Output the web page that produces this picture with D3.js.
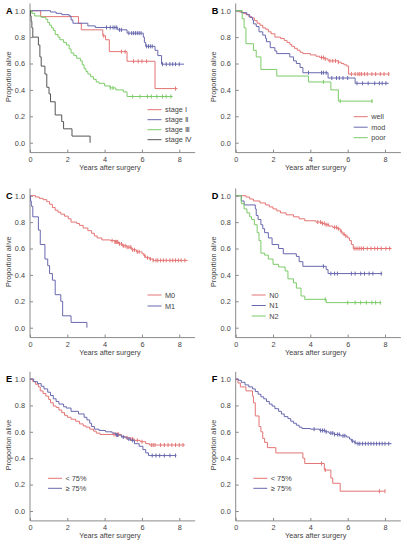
<!DOCTYPE html>
<html><head><meta charset="utf-8">
<script src="https://cdn.jsdelivr.net/npm/d3@7"></script>
<style>
html,body{margin:0;padding:0;background:#fff;}
svg text{font-family:"Liberation Sans",Arial,sans-serif;}
</style></head>
<body><svg id="c" width="407" height="545"></svg>
<script>
// ---------- DATA (years, survival) ----------
const xTicks = [0, 2, 4, 6, 8];
const yTicks = [0.0, 0.2, 0.4, 0.6, 0.8, 1.0];

// Panel A: stage
const A_labels = ["stage \u2160", "stage \u2161", "stage \u2162", "stage \u2163"];
const A_s1 = [[0,1],[0.57,0.955],[2.6,0.905],[2.75,0.855],[3.9,0.81],[4.05,0.78],[4.25,0.69],[5.2,0.617],[6.7,0.41]];
const A_s1_end = 7.9, A_s1_cens = [3.95,4.9,5.1,5.55,5.8,6.0,6.25,7.8];
const A_s2 = [[0,1],[1.1,0.99],[1.4,0.98],[1.7,0.97],[2.1,0.96],[2.2,0.93],[2.3,0.905],[3.1,0.885],[3.5,0.873],[4.7,0.855],[5.2,0.83],[6.07,0.80],[6.13,0.76],[6.2,0.73],[6.7,0.70],[6.85,0.66],[7.05,0.595]];
const A_s2_end = 8.25, A_s2_cens = [4.1,4.3,4.45,4.55,4.65,4.8,4.9,5.3,5.45,5.55,5.65,5.75,5.85,5.95,6.25,6.35,6.45,6.55,7.1,7.3,7.5,7.65,7.8,8.0];
const A_s3 = [[0,1],[0.1,0.98],[0.25,0.96],[0.6,0.95],[0.85,0.935],[0.95,0.91],[1.05,0.89],[1.15,0.87],[1.25,0.85],[1.35,0.82],[1.5,0.8],[1.6,0.78],[1.8,0.76],[1.95,0.74],[2.1,0.71],[2.2,0.68],[2.35,0.66],[2.5,0.64],[2.7,0.62],[2.8,0.59],[2.9,0.56],[3.0,0.54],[3.1,0.52],[3.25,0.5],[3.4,0.48],[3.55,0.46],[3.7,0.45],[4.0,0.43],[4.3,0.415],[4.6,0.40],[5.0,0.385],[5.2,0.35]];
const A_s3_end = 7.65, A_s3_cens = [4.3,4.45,5.5,5.9,6.3,6.5,6.8,7.1,7.3,7.55];
const A_s4 = [[0,1],[0.03,0.96],[0.06,0.92],[0.1,0.87],[0.15,0.80],[0.45,0.74],[0.53,0.65],[0.6,0.58],[0.8,0.52],[0.9,0.42],[1.02,0.37],[1.1,0.31],[1.35,0.21],[1.7,0.16],[1.8,0.105],[2.25,0.05],[3.22,0.0]];
const A_s4_end = 3.22, A_s4_cens = [];

// Panel B: differentiation
const B_labels = ["well", "mod", "poor"];
const B_well = [[0,1],[0.2,0.99],[0.4,0.98],[0.55,0.97],[0.7,0.955],[0.85,0.945],[1.0,0.925],[1.15,0.905],[1.3,0.89],[1.45,0.87],[1.6,0.86],[1.75,0.84],[1.9,0.825],[2.1,0.80],[2.4,0.79],[2.6,0.775],[2.75,0.76],[2.9,0.745],[3.0,0.73],[3.15,0.715],[3.3,0.70],[3.45,0.685],[3.6,0.675],[4.0,0.665],[4.3,0.655],[4.5,0.645],[4.75,0.635],[4.95,0.62],[5.5,0.61],[5.65,0.60],[5.8,0.59],[5.95,0.58],[6.05,0.52]];
const B_well_end = 8.25, B_well_cens = [4.6,4.7,4.8,5.05,5.2,5.35,5.5,6.2,6.4,6.55,6.65,6.75,6.9,7.05,7.3,7.5,7.75,7.95,8.2];
const B_mod = [[0,1],[0.3,0.985],[0.6,0.97],[0.75,0.95],[0.9,0.93],[0.95,0.90],[1.1,0.88],[1.25,0.84],[1.45,0.815],[1.6,0.79],[1.65,0.765],[1.85,0.72],[2.1,0.695],[2.2,0.675],[2.9,0.65],[3.1,0.62],[3.25,0.60],[3.45,0.57],[3.6,0.53],[4.95,0.49],[6.4,0.45]];
const B_mod_end = 8.2, B_mod_cens = [3.9,4.6,4.7,4.85,5.15,5.4,5.55,5.75,6.0,6.5,6.8,7.1,7.45,7.7,7.85,8.05];
const B_poor = [[0,1],[0.35,0.94],[0.45,0.87],[0.55,0.75],[0.95,0.70],[1.1,0.65],[1.35,0.555],[2.2,0.505],[3.9,0.46],[5.1,0.40],[5.5,0.315]];
const B_poor_end = 7.35, B_poor_cens = [4.7,5.6,7.3];

// Panel C: M stage
const C_labels = ["M0", "M1"];
const C_m0 = [[0,1],[0.3,0.99],[0.5,0.98],[0.7,0.97],[0.9,0.955],[1.05,0.935],[1.2,0.91],[1.35,0.89],[1.5,0.875],[1.65,0.86],[1.85,0.845],[2.05,0.825],[2.2,0.80],[2.5,0.79],[2.65,0.775],[2.85,0.755],[3.1,0.735],[3.3,0.715],[3.45,0.695],[3.6,0.68],[3.85,0.665],[4.3,0.66],[4.55,0.65],[4.75,0.635],[4.95,0.62],[5.2,0.61],[5.45,0.59],[5.7,0.575],[6.0,0.56],[6.1,0.545],[6.2,0.53],[6.4,0.52],[6.6,0.51]];
const C_m0_end = 8.45, C_m0_cens = [4.4,4.55,4.6,4.65,4.7,4.8,4.9,5.0,5.1,5.2,5.3,5.4,5.5,5.6,5.75,5.85,6.15,6.3,6.45,6.6,6.75,6.85,7.0,7.15,7.3,7.5,7.65,7.8,7.95,8.1,8.3];
const C_m1 = [[0,1],[0.03,0.96],[0.07,0.92],[0.15,0.84],[0.45,0.74],[0.55,0.63],[0.8,0.52],[0.95,0.47],[1.05,0.41],[1.2,0.36],[1.35,0.25],[1.65,0.20],[1.75,0.09],[2.2,0.04],[3.05,0.0]];
const C_m1_end = 3.05, C_m1_cens = [];

// Panel D: N stage
const D_labels = ["N0", "N1", "N2"];
const D_n0 = [[0,1],[0.55,0.99],[0.75,0.975],[0.95,0.96],[1.3,0.945],[1.6,0.93],[1.8,0.915],[2.0,0.90],[2.2,0.885],[2.4,0.87],[2.7,0.855],[3.1,0.84],[3.4,0.825],[3.7,0.81],[4.3,0.80],[4.6,0.79],[4.8,0.78],[5.0,0.77],[5.2,0.76],[5.45,0.75],[5.6,0.73],[5.7,0.71],[5.85,0.695],[6.0,0.68],[6.1,0.66],[6.2,0.63],[6.3,0.60]];
const D_n0_end = 8.35, D_n0_cens = [4.4,4.55,4.65,4.75,4.85,4.95,5.3,5.4,5.5,5.65,5.8,5.9,6.35,6.45,6.55,6.65,6.75,6.85,7.05,7.25,7.45,7.6,7.8,8.05,8.25];
const D_n1 = [[0,1],[0.3,0.96],[0.45,0.93],[1.05,0.90],[1.1,0.85],[1.2,0.82],[1.35,0.78],[1.45,0.75],[1.55,0.72],[1.75,0.68],[1.95,0.63],[2.3,0.60],[2.55,0.56],[3.25,0.54],[3.4,0.50],[3.6,0.465],[4.85,0.44],[4.95,0.41]];
const D_n1_end = 7.85, D_n1_cens = [4.7,5.1,5.3,5.45,6.2,6.4,6.7,6.9,7.15,7.35,7.8];
const D_n2 = [[0,1],[0.3,0.94],[0.45,0.90],[0.6,0.87],[0.75,0.84],[0.85,0.82],[1.0,0.78],[1.15,0.72],[1.25,0.66],[1.35,0.565],[1.55,0.55],[1.75,0.52],[2.0,0.48],[2.3,0.46],[2.65,0.43],[2.8,0.37],[3.1,0.34],[3.25,0.30],[3.5,0.24],[3.7,0.215],[4.85,0.19]];
const D_n2_end = 7.8, D_n2_cens = [4.8,6.0,6.4,6.7,7.0,7.3,7.5,7.75];

// Panel E
const E_labels = ["< 75%", "\u2265 75%"];
const E_lo = [[0,1],[0.15,0.98],[0.3,0.96],[0.45,0.94],[0.55,0.91],[0.7,0.89],[0.85,0.87],[1.0,0.845],[1.1,0.82],[1.25,0.795],[1.4,0.785],[1.55,0.765],[1.7,0.745],[1.85,0.725],[2.0,0.71],[2.2,0.695],[2.45,0.68],[2.65,0.66],[2.85,0.645],[3.0,0.635],[3.2,0.62],[3.4,0.605],[3.55,0.59],[3.75,0.58],[4.9,0.565],[5.1,0.555],[5.35,0.545],[5.6,0.535],[5.9,0.525],[6.2,0.51],[6.4,0.50]];
const E_lo_end = 8.3, E_lo_cens = [4.5,4.6,4.7,4.75,5.2,5.4,5.5,5.75,6.0,6.5,6.6,6.7,7.0,7.2,7.4,7.6,7.8,8.0,8.2];
const E_hi = [[0,1],[0.2,0.98],[0.4,0.965],[0.6,0.945],[0.75,0.925],[0.95,0.90],[1.1,0.875],[1.25,0.85],[1.4,0.83],[1.55,0.81],[1.8,0.79],[1.95,0.78],[2.2,0.755],[2.6,0.735],[2.9,0.71],[3.05,0.69],[3.2,0.665],[3.3,0.64],[3.45,0.62],[3.7,0.61],[4.05,0.60],[4.4,0.59],[4.6,0.575],[4.9,0.56],[5.2,0.545],[5.4,0.535],[5.6,0.51],[5.85,0.49],[6.05,0.465],[6.2,0.44],[6.35,0.42]];
const E_hi_end = 7.85, E_hi_cens = [4.65,4.7,5.0,5.3,5.5,6.55,6.75,6.95,7.2,7.5,7.8];

// Panel F
const F_labels = ["< 75%", "\u2265 75%"];
const F_lo = [[0,1],[0.12,0.97],[0.25,0.94],[0.55,0.91],[0.9,0.87],[0.95,0.82],[1.05,0.72],[1.25,0.64],[1.35,0.60],[1.45,0.55],[1.55,0.52],[1.7,0.48],[2.15,0.44],[3.6,0.40],[3.7,0.36],[4.75,0.31],[5.1,0.25],[5.2,0.21],[5.6,0.15]];
const F_lo_end = 8.0, F_lo_cens = [4.6,4.8,7.7,8.0];
const F_hi = [[0,1],[0.15,0.99],[0.3,0.975],[0.5,0.955],[0.7,0.94],[0.9,0.925],[1.05,0.905],[1.2,0.885],[1.35,0.865],[1.5,0.85],[1.65,0.83],[1.8,0.81],[1.95,0.795],[2.1,0.775],[2.3,0.755],[2.45,0.735],[2.6,0.715],[2.8,0.70],[2.95,0.68],[3.1,0.665],[3.25,0.65],[3.4,0.635],[3.55,0.625],[4.0,0.62],[4.5,0.61],[4.8,0.60],[5.0,0.59],[5.3,0.58],[5.6,0.57],[5.95,0.56],[6.1,0.545],[6.2,0.53],[6.35,0.52],[6.45,0.51]];
const F_hi_end = 8.35, F_hi_cens = [4.2,4.55,4.65,4.75,4.85,5.1,5.2,5.3,5.45,5.55,5.75,5.85,6.25,6.4,6.55,6.65,6.8,6.95,7.1,7.25,7.4,7.55,7.7,7.85,8.0,8.2];

// ---------- STYLE / LAYOUT ----------
const RED = "#e47474", BLUE = "#6868ae", GREEN = "#7ccb68", GRAY = "#555555";
const panels = [
  {letter:"A", ax:30, top:10.7, legend:{x:117.5, y:99, dy:10},
   series:[{s:A_s1,end:A_s1_end,c:A_s1_cens,col:RED},{s:A_s2,end:A_s2_end,c:A_s2_cens,col:BLUE},{s:A_s3,end:A_s3_end,c:A_s3_cens,col:GREEN},{s:A_s4,end:A_s4_end,c:A_s4_cens,col:GRAY}], labels:A_labels},
  {letter:"B", ax:235.7, top:10.7, legend:{x:118, y:106, dy:10.5},
   series:[{s:B_well,end:B_well_end,c:B_well_cens,col:RED},{s:B_mod,end:B_mod_end,c:B_mod_cens,col:BLUE},{s:B_poor,end:B_poor_end,c:B_poor_cens,col:GREEN}], labels:B_labels},
  {letter:"C", ax:30, top:195.7, legend:{x:117.5, y:99.3, dy:11},
   series:[{s:C_m0,end:C_m0_end,c:C_m0_cens,col:RED},{s:C_m1,end:C_m1_end,c:C_m1_cens,col:BLUE}], labels:C_labels},
  {letter:"D", ax:235.7, top:195.7, legend:{x:16, y:99.3, dy:10.5},
   series:[{s:D_n0,end:D_n0_end,c:D_n0_cens,col:RED},{s:D_n1,end:D_n1_end,c:D_n1_cens,col:BLUE},{s:D_n2,end:D_n2_end,c:D_n2_cens,col:GREEN}], labels:D_labels},
  {letter:"E", ax:30, top:379, legend:{x:18, y:99.3, dy:10},
   series:[{s:E_lo,end:E_lo_end,c:E_lo_cens,col:RED},{s:E_hi,end:E_hi_end,c:E_hi_cens,col:BLUE}], labels:E_labels},
  {letter:"F", ax:235.7, top:379, legend:{x:17.6, y:99.3, dy:10},
   series:[{s:F_lo,end:F_lo_end,c:F_lo_cens,col:RED},{s:F_hi,end:F_hi_end,c:F_hi_cens,col:BLUE}], labels:F_labels}
];

const svg = d3.select("#c");
const PX_PER_YEAR = 18.66, H = 132, XMAX = 8.85, YLO = -0.075, YHI = 1.055;
const FS = 7.3, TXT = "#444", AXC = "#8a8a8a";

panels.forEach(p => {
  const g = svg.append("g");
  const x = d3.scaleLinear().domain([0, 8]).range([p.ax, p.ax + 8*PX_PER_YEAR]);
  const y = d3.scaleLinear().domain([0, 1]).range([p.top + H, p.top]);
  const xAxisY = y(YLO);

  g.append("line").attr("x1", p.ax).attr("x2", p.ax).attr("y1", y(YHI)).attr("y2", xAxisY)
    .attr("stroke", AXC).attr("stroke-width", 1);
  g.append("line").attr("x1", p.ax).attr("x2", x(XMAX)).attr("y1", xAxisY).attr("y2", xAxisY)
    .attr("stroke", AXC).attr("stroke-width", 1);

  const yAx = g.append("g").attr("transform", `translate(${p.ax},0)`)
    .call(d3.axisLeft(y).tickValues(yTicks).tickFormat(d3.format(".1f")).tickSizeInner(-3).tickSizeOuter(0).tickPadding(5));
  const xAx = g.append("g").attr("transform", `translate(0,${xAxisY})`)
    .call(d3.axisBottom(x).tickValues(xTicks).tickFormat(d3.format("d")).tickSizeInner(-3).tickSizeOuter(0).tickPadding(4));
  [yAx, xAx].forEach(a => {
    a.select(".domain").remove();
    a.selectAll(".tick line").attr("stroke", AXC);
    a.selectAll(".tick text").attr("fill", TXT).style("font-size", FS + "px").style("font-family", '"Liberation Sans",Arial,sans-serif');
  });

  g.append("text").attr("x", p.ax + 80).attr("y", xAxisY + 17).attr("text-anchor", "middle")
    .attr("fill", TXT).style("font-size", FS + "px").text("Years after surgery");
  g.append("text").attr("transform", `translate(${p.ax - 19.5},${p.top + H/2}) rotate(-90)`)
    .attr("text-anchor", "middle").attr("fill", TXT).style("font-size", FS + "px").text("Proportion alive");
  g.append("text").attr("x", p.ax - 24).attr("y", p.top + 3.2).attr("fill", "#000")
    .style("font-size", "9.2px").style("font-weight", "bold").text(p.letter);

  const line = d3.line().x(d => x(d[0])).y(d => y(d[1])).curve(d3.curveStepAfter);
  p.series.forEach(sr => {
    const pts = sr.s.concat([[sr.end, sr.s[sr.s.length-1][1]]]);
    g.append("path").attr("d", line(pts)).attr("fill", "none").attr("stroke", sr.col).attr("stroke-width", 1);
    const valAt = t => { let v = 1; sr.s.forEach(d => { if (d[0] <= t) v = d[1]; }); return v; };
    g.selectAll(null).data(sr.c).enter().append("line")
      .attr("x1", d => x(d)).attr("x2", d => x(d))
      .attr("y1", d => y(valAt(d)) - 2).attr("y2", d => y(valAt(d)) + 2)
      .attr("stroke", sr.col).attr("stroke-width", 1);
  });

  p.series.forEach((sr, i) => {
    const ly = p.top + p.legend.y + i * p.legend.dy;
    g.append("line").attr("x1", p.ax + p.legend.x).attr("x2", p.ax + p.legend.x + 14)
      .attr("y1", ly).attr("y2", ly).attr("stroke", sr.col).attr("stroke-width", 1);
    g.append("text").attr("x", p.ax + p.legend.x + 17.5).attr("y", ly).attr("dy", "0.35em")
      .attr("fill", TXT).style("font-size", FS + "px").text(p.labels[i]);
  });
});
</script></body></html>
